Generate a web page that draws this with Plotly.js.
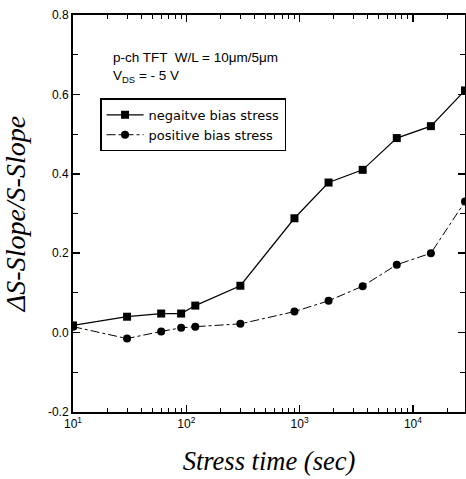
<!DOCTYPE html>
<html><head><meta charset="utf-8">
<script src="https://cdn.plot.ly/plotly-3.0.1.min.js"></script>
<style>html,body{margin:0;padding:0;background:#fff}#chart{width:466px;height:479px}</style>
</head><body><div id="chart"></div>
<script>
var stressTime = [10, 30, 60, 90, 120, 300, 900, 1800, 3600, 7200, 14400, 28800];
var negativeBias = [0.018, 0.04, 0.048, 0.048, 0.068, 0.118, 0.288, 0.378, 0.41, 0.49, 0.52, 0.61];
var positiveBias = [0.015, -0.015, 0.003, 0.012, 0.015, 0.022, 0.053, 0.08, 0.117, 0.171, 0.20, 0.33];
var xTickVals = [10, 100, 1000, 10000];
var xTickText = ['10<sup>1</sup>', '10<sup>2</sup>', '10<sup>3</sup>', '10<sup>4</sup>'];
var yTickVals = [-0.2, 0.0, 0.2, 0.4, 0.6, 0.8];
var yTickText = ['-0.2', '0.0', '0.2', '0.4', '0.6', '0.8'];

var xMinor = [];
for (var d = 10; d <= 10000; d *= 10) { for (var k = 2; k <= 9; k++) xMinor.push(d * k); }

var traces = [
  {x: stressTime, y: negativeBias, name: 'negaitve bias stress', mode: 'lines+markers',
   line: {color: '#000', width: 1.2, dash: 'solid'},
   marker: {symbol: 'square', size: 8, color: '#000'}},
  {x: stressTime, y: positiveBias, name: 'positive bias stress', mode: 'lines+markers',
   line: {color: '#000', width: 1, dash: 'dashdot'},
   marker: {symbol: 'circle', size: 8, color: '#000'}}
];

var axFont = {family: 'Liberation Sans, Arial, sans-serif', size: 12, color: '#000'};
var layout = {
  width: 466, height: 479,
  margin: {l: 73, r: 1, t: 15, b: 67},
  paper_bgcolor: '#fff', plot_bgcolor: '#fff',
  showlegend: true,
  legend: {x: 0.069, y: 0.79, xanchor: 'left', yanchor: 'top',
    bordercolor: '#000', borderwidth: 1.5, bgcolor: '#fff', itemwidth: 37,
    font: {family: 'DejaVu Sans, sans-serif', size: 13, color: '#000'},
    tracegroupgap: 0},
  xaxis: {type: 'log', range: [1, Math.log10(28800)],
    tickmode: 'array', tickvals: xTickVals, ticktext: xTickText,
    ticks: 'inside', ticklen: 7, tickwidth: 1.5, tickcolor: '#000',
    showline: true, linecolor: '#000', linewidth: 2, mirror: 'ticks',
    showgrid: false, zeroline: false, tickfont: axFont,
    minor: {tickmode: 'array', tickvals: xMinor, ticks: 'inside', ticklen: 4, tickwidth: 1, tickcolor: '#000', showgrid: false},
    title: {text: 'Stress time (sec)', font: {family: 'Liberation Serif, Times New Roman, serif', size: 26.5, color: '#000', style: 'italic'}, standoff: 21}},
  yaxis: {range: [-0.2, 0.8],
    tickmode: 'array', tickvals: yTickVals, ticktext: yTickText,
    ticks: 'inside', ticklen: 7, tickwidth: 1.5, tickcolor: '#000',
    showline: true, linecolor: '#000', linewidth: 2, mirror: 'ticks',
    showgrid: false, zeroline: false, tickfont: axFont,
    minor: {dtick: 0.1, ticks: 'inside', ticklen: 5, tickwidth: 1, tickcolor: '#000', showgrid: false},
    title: {text: 'ΔS-Slope/S-Slope', font: {family: 'Liberation Serif, Times New Roman, serif', size: 28, color: '#000', style: 'italic'}, standoff: 18}},
  annotations: [
    {xref: 'paper', yref: 'paper', x: 0.097, y: 0.892, xanchor: 'left', yanchor: 'middle', showarrow: false,
     text: 'p-ch TFT  W/L = 10μm/5μm', font: {family: 'Liberation Sans, Arial, sans-serif', size: 13.5, color: '#000'}},
    {xref: 'paper', yref: 'paper', x: 0.097, y: 0.845, xanchor: 'left', yanchor: 'middle', showarrow: false,
     text: 'V<sub>DS</sub> = - 5 V', font: {family: 'Liberation Sans, Arial, sans-serif', size: 13.5, color: '#000'}}
  ]
};
Plotly.newPlot('chart', traces, layout, {displayModeBar: false, staticPlot: true});
</script></body></html>
